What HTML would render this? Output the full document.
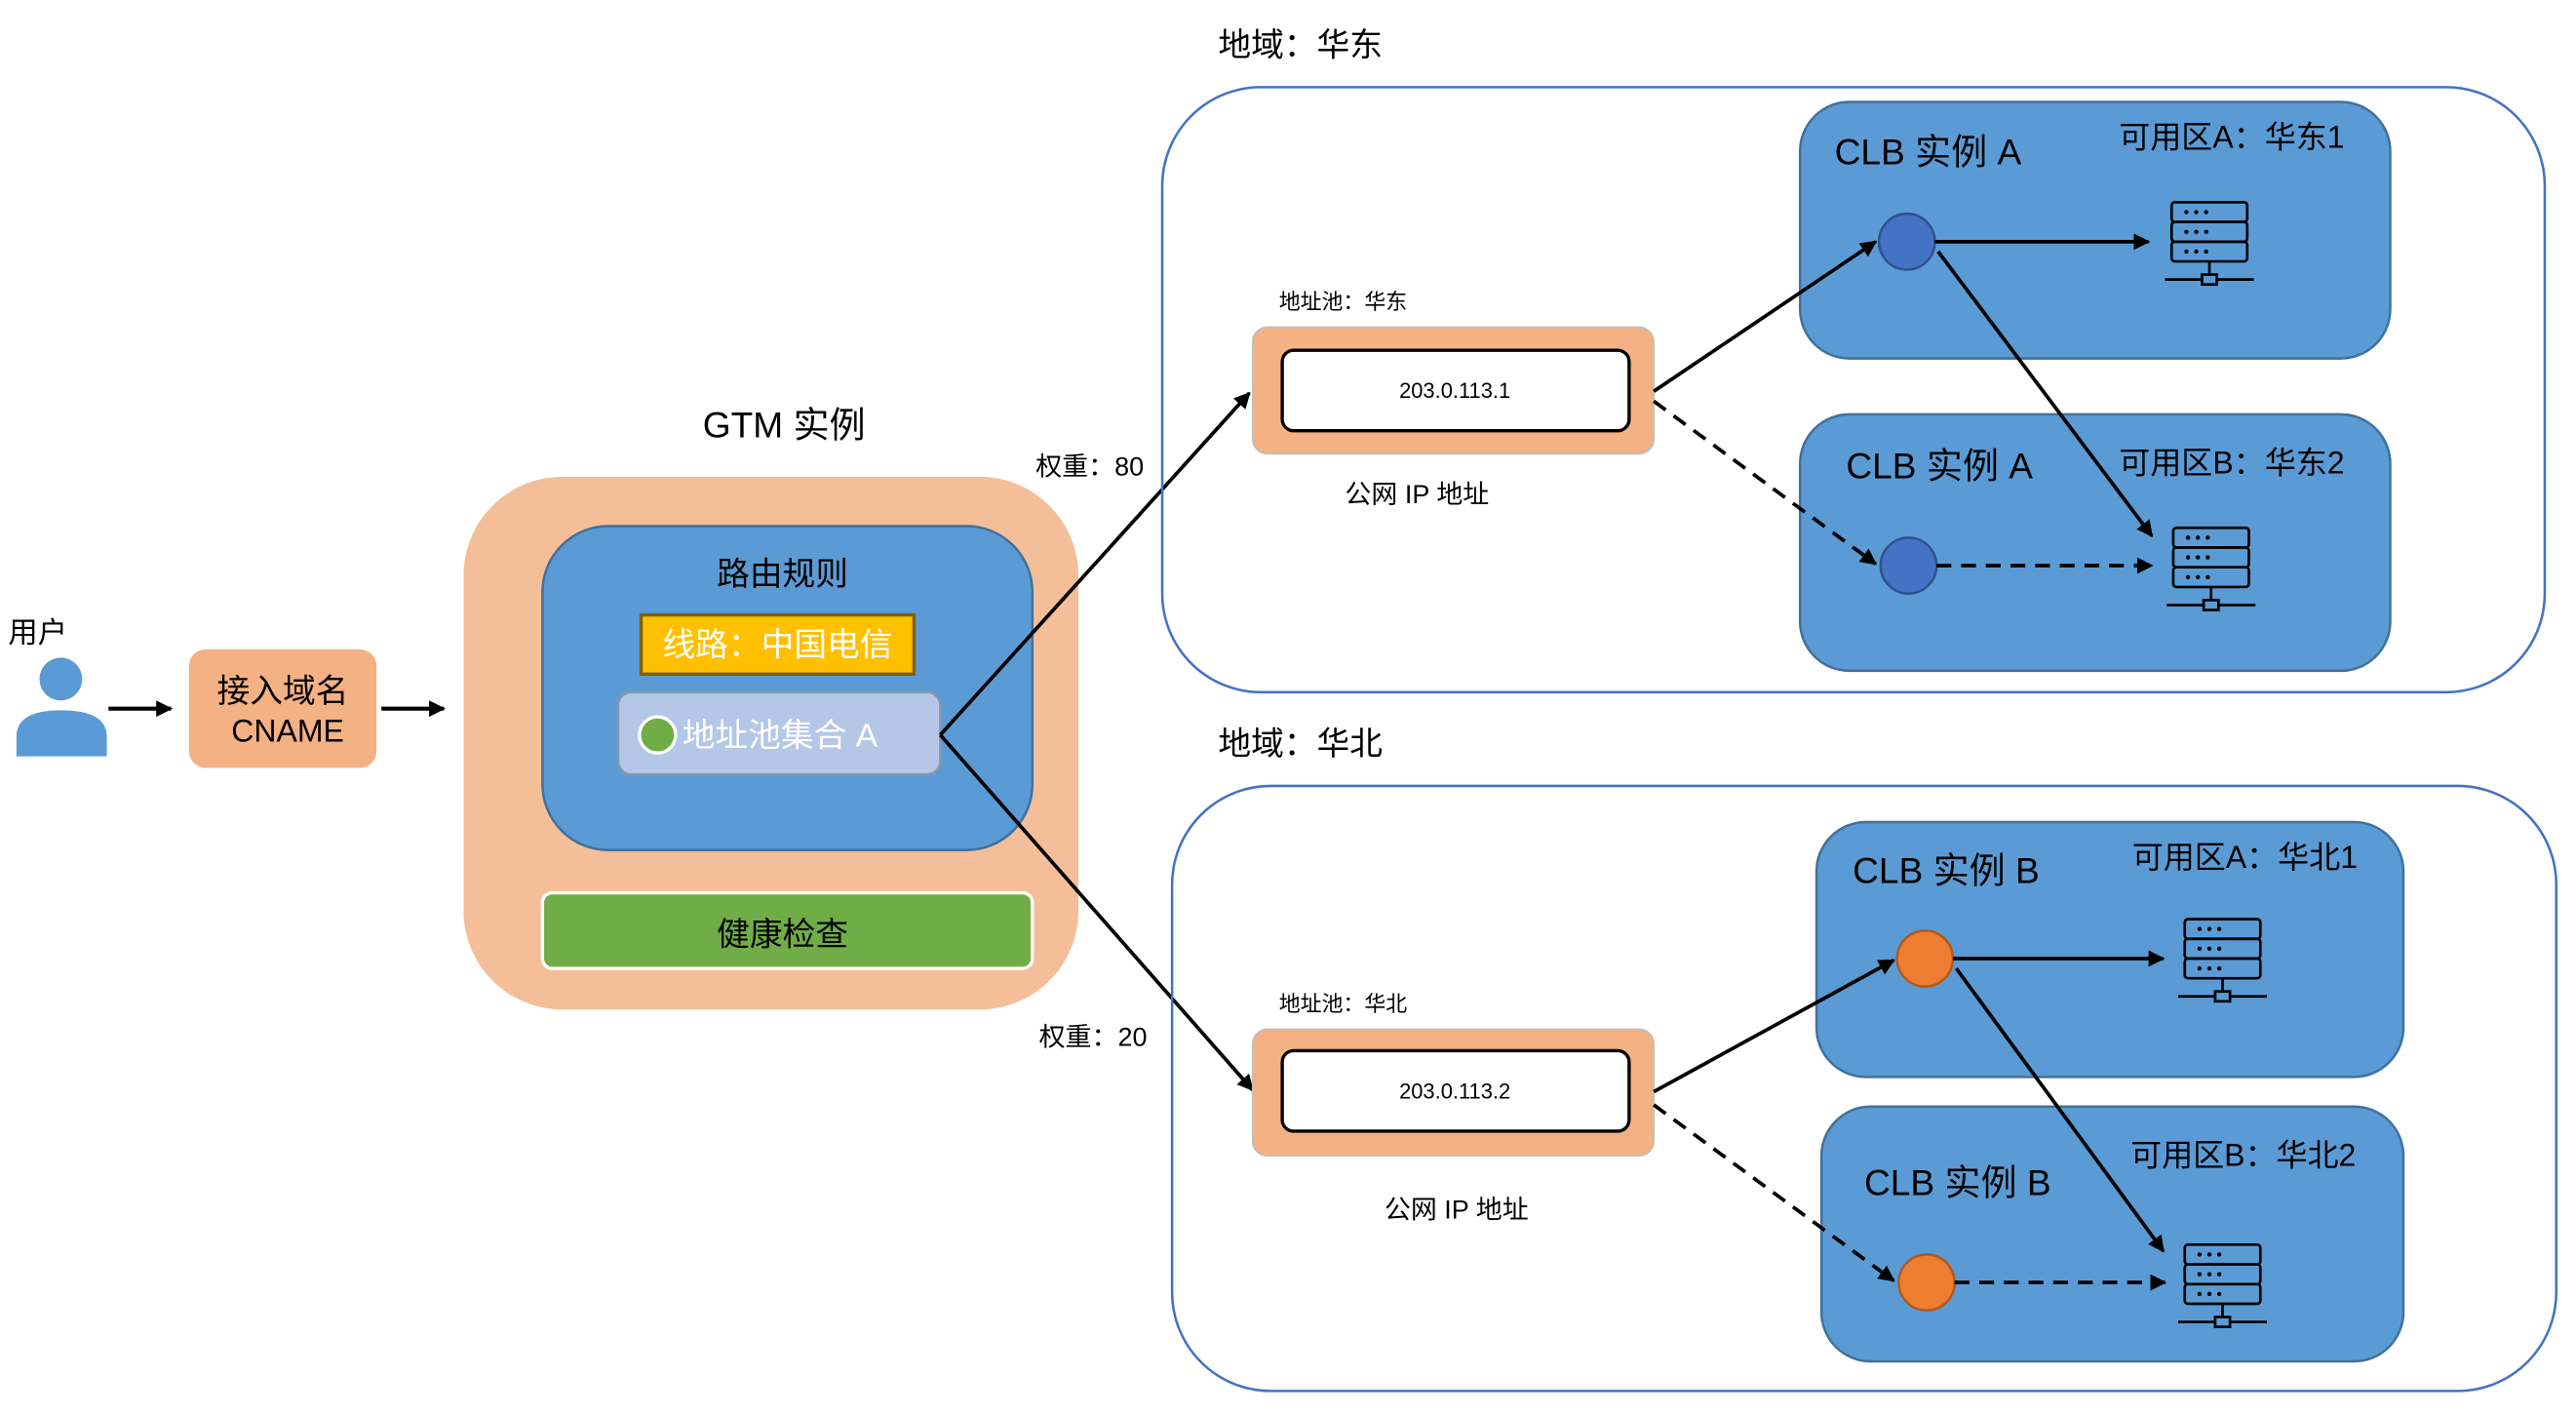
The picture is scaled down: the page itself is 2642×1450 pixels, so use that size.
<!DOCTYPE html>
<html><head><meta charset="utf-8">
<style>
html,body{margin:0;padding:0;background:#fff;}
svg{display:block;}
text{font-family:"Liberation Sans","Noto Sans CJK SC",sans-serif;}
</style></head>
<body>
<svg width="2642" height="1450" viewBox="0 0 1567 860" xmlns="http://www.w3.org/2000/svg">
<defs>
<marker id="ah" viewBox="0 0 10 10" refX="9" refY="5" markerWidth="10" markerHeight="10" markerUnits="userSpaceOnUse" orient="auto">
<path d="M0,0 L10,5 L0,10 z" fill="#000"/>
</marker>
<g id="srv" fill="none" stroke="#000" stroke-width="1.6">
<rect x="0" y="0" width="46" height="12" rx="2"/>
<rect x="0" y="12" width="46" height="12" rx="2"/>
<rect x="0" y="24" width="46" height="12" rx="2"/>
<g fill="#000" stroke="none">
<circle cx="9" cy="6" r="1.3"/><circle cx="15" cy="6" r="1.3"/><circle cx="21" cy="6" r="1.3"/>
<circle cx="9" cy="18" r="1.3"/><circle cx="15" cy="18" r="1.3"/><circle cx="21" cy="18" r="1.3"/>
<circle cx="9" cy="30" r="1.3"/><circle cx="15" cy="30" r="1.3"/><circle cx="21" cy="30" r="1.3"/>
</g>
<line x1="23" y1="36" x2="23" y2="44"/>
<line x1="-4" y1="47" x2="50" y2="47"/>
<rect x="18.5" y="44" width="9" height="6" fill="#5b9bd5"/>
</g>
</defs>

<!-- user -->
<text x="5" y="391" font-size="18">用户</text>
<circle cx="37" cy="413" r="13" fill="#5b9bd5"/>
<path d="M10,460 L10,448 Q10,432 37,432 Q65,432 65,448 L65,460 Z" fill="#5b9bd5"/>
<line x1="66" y1="431" x2="104" y2="431" stroke="#000" stroke-width="2.5" marker-end="url(#ah)"/>
<rect x="115" y="395" width="114" height="72" rx="10" fill="#f4b183"/>
<text x="172" y="427" font-size="20" text-anchor="middle">接入域名</text>
<text x="175" y="451" font-size="19" text-anchor="middle">CNAME</text>
<line x1="232" y1="431" x2="270" y2="431" stroke="#000" stroke-width="2.5" marker-end="url(#ah)"/>

<!-- GTM -->
<text x="477" y="266" font-size="22" text-anchor="middle">GTM 实例</text>
<rect x="282" y="290" width="374" height="324" rx="60" fill="#f4bf98"/>
<rect x="330" y="320" width="298" height="197" rx="40" fill="#5b9bd5" stroke="#41719c" stroke-width="1.5"/>
<text x="476" y="356" font-size="20" text-anchor="middle">路由规则</text>
<rect x="390" y="374" width="166" height="36" fill="#ffc000" stroke="#7f6000" stroke-width="2"/>
<text x="473" y="399" font-size="20" text-anchor="middle" fill="#fff">线路：中国电信</text>
<rect x="376" y="421" width="196" height="50" rx="8" fill="#b4c7e7" stroke="#8497b0" stroke-width="1.5"/>
<circle cx="400" cy="447" r="11" fill="#70ad47" stroke="#fff" stroke-width="2"/>
<text x="415" y="454" font-size="20" fill="#fff">地址池集合 A</text>
<rect x="330" y="543" width="298" height="46" rx="6" fill="#70ad47" stroke="#fff" stroke-width="2"/>
<text x="476" y="575" font-size="20" text-anchor="middle">健康检查</text>

<line x1="572" y1="447" x2="760" y2="239" stroke="#000" stroke-width="2.2" marker-end="url(#ah)"/>
<line x1="572" y1="447" x2="762" y2="663" stroke="#000" stroke-width="2.2" marker-end="url(#ah)"/>
<text x="630" y="289" font-size="16">权重：80</text>
<text x="632" y="636" font-size="16">权重：20</text>

<!-- Region East -->
<text x="741" y="34" font-size="20">地域：华东</text>
<rect x="707" y="53" width="841" height="368" rx="60" fill="none" stroke="#4472c4" stroke-width="1.5"/>
<text x="778" y="188" font-size="13">地址池：华东</text>
<rect x="762" y="199" width="244" height="77" rx="9" fill="#f4b183" stroke="#bfbfbf" stroke-width="1"/>
<rect x="780" y="213" width="211" height="49" rx="7" fill="#fff" stroke="#000" stroke-width="2"/>
<text x="885" y="242" font-size="13" text-anchor="middle">203.0.113.1</text>
<text x="862" y="306" font-size="16" text-anchor="middle">公网 IP 地址</text>

<rect x="1095" y="62" width="359" height="156" rx="30" fill="#5b9bd5" stroke="#41719c" stroke-width="1.5"/>
<text x="1116" y="100" font-size="22">CLB 实例 A</text>
<text x="1289" y="90" font-size="19">可用区A：华东1</text>
<rect x="1095" y="252" width="359" height="156" rx="30" fill="#5b9bd5" stroke="#41719c" stroke-width="1.5"/>
<text x="1123" y="291" font-size="22">CLB 实例 A</text>
<text x="1289" y="288" font-size="19">可用区B：华东2</text>

<line x1="1006" y1="238" x2="1141" y2="147" stroke="#000" stroke-width="2.2" marker-end="url(#ah)"/>
<line x1="1006" y1="244" x2="1141" y2="343" stroke="#000" stroke-width="2.2" stroke-dasharray="9,6" marker-end="url(#ah)"/>
<circle cx="1160" cy="147" r="17" fill="#4472c4" stroke="#2f528f" stroke-width="1.5"/>
<circle cx="1161" cy="344" r="17" fill="#4472c4" stroke="#2f528f" stroke-width="1.5"/>
<line x1="1177" y1="147" x2="1307" y2="147" stroke="#000" stroke-width="2.2" marker-end="url(#ah)"/>
<line x1="1178" y1="344" x2="1309" y2="344" stroke="#000" stroke-width="2.2" stroke-dasharray="9,6" marker-end="url(#ah)"/>
<line x1="1179" y1="153" x2="1309" y2="326" stroke="#000" stroke-width="2.2" marker-end="url(#ah)"/>
<use href="#srv" x="1321" y="123"/>
<use href="#srv" x="1322" y="321"/>

<!-- Region North -->
<text x="741" y="459" font-size="20">地域：华北</text>
<rect x="713" y="478" width="842" height="368" rx="60" fill="none" stroke="#4472c4" stroke-width="1.5"/>
<text x="778" y="615" font-size="13">地址池：华北</text>
<rect x="762" y="626" width="244" height="77" rx="9" fill="#f4b183" stroke="#bfbfbf" stroke-width="1"/>
<rect x="780" y="639" width="211" height="49" rx="7" fill="#fff" stroke="#000" stroke-width="2"/>
<text x="885" y="668" font-size="13" text-anchor="middle">203.0.113.2</text>
<text x="886" y="741" font-size="16" text-anchor="middle">公网 IP 地址</text>

<rect x="1105" y="500" width="357" height="155" rx="30" fill="#5b9bd5" stroke="#41719c" stroke-width="1.5"/>
<text x="1127" y="537" font-size="22">CLB 实例 B</text>
<text x="1297" y="528" font-size="19">可用区A：华北1</text>
<rect x="1108" y="673" width="354" height="155" rx="30" fill="#5b9bd5" stroke="#41719c" stroke-width="1.5"/>
<text x="1134" y="727" font-size="22">CLB 实例 B</text>
<text x="1296" y="709" font-size="19">可用区B：华北2</text>

<line x1="1006" y1="664" x2="1152" y2="584" stroke="#000" stroke-width="2.2" marker-end="url(#ah)"/>
<line x1="1006" y1="672" x2="1152" y2="779" stroke="#000" stroke-width="2.2" stroke-dasharray="9,6" marker-end="url(#ah)"/>
<circle cx="1171" cy="583" r="17" fill="#ed7d31" stroke="#ae5a21" stroke-width="1.5"/>
<circle cx="1172" cy="780" r="17" fill="#ed7d31" stroke="#ae5a21" stroke-width="1.5"/>
<line x1="1188" y1="583" x2="1316" y2="583" stroke="#000" stroke-width="2.2" marker-end="url(#ah)"/>
<line x1="1189" y1="780" x2="1317" y2="780" stroke="#000" stroke-width="2.2" stroke-dasharray="9,6" marker-end="url(#ah)"/>
<line x1="1190" y1="589" x2="1316" y2="761" stroke="#000" stroke-width="2.2" marker-end="url(#ah)"/>
<use href="#srv" x="1329" y="559"/>
<use href="#srv" x="1329" y="757"/>
</svg>
</body></html>
